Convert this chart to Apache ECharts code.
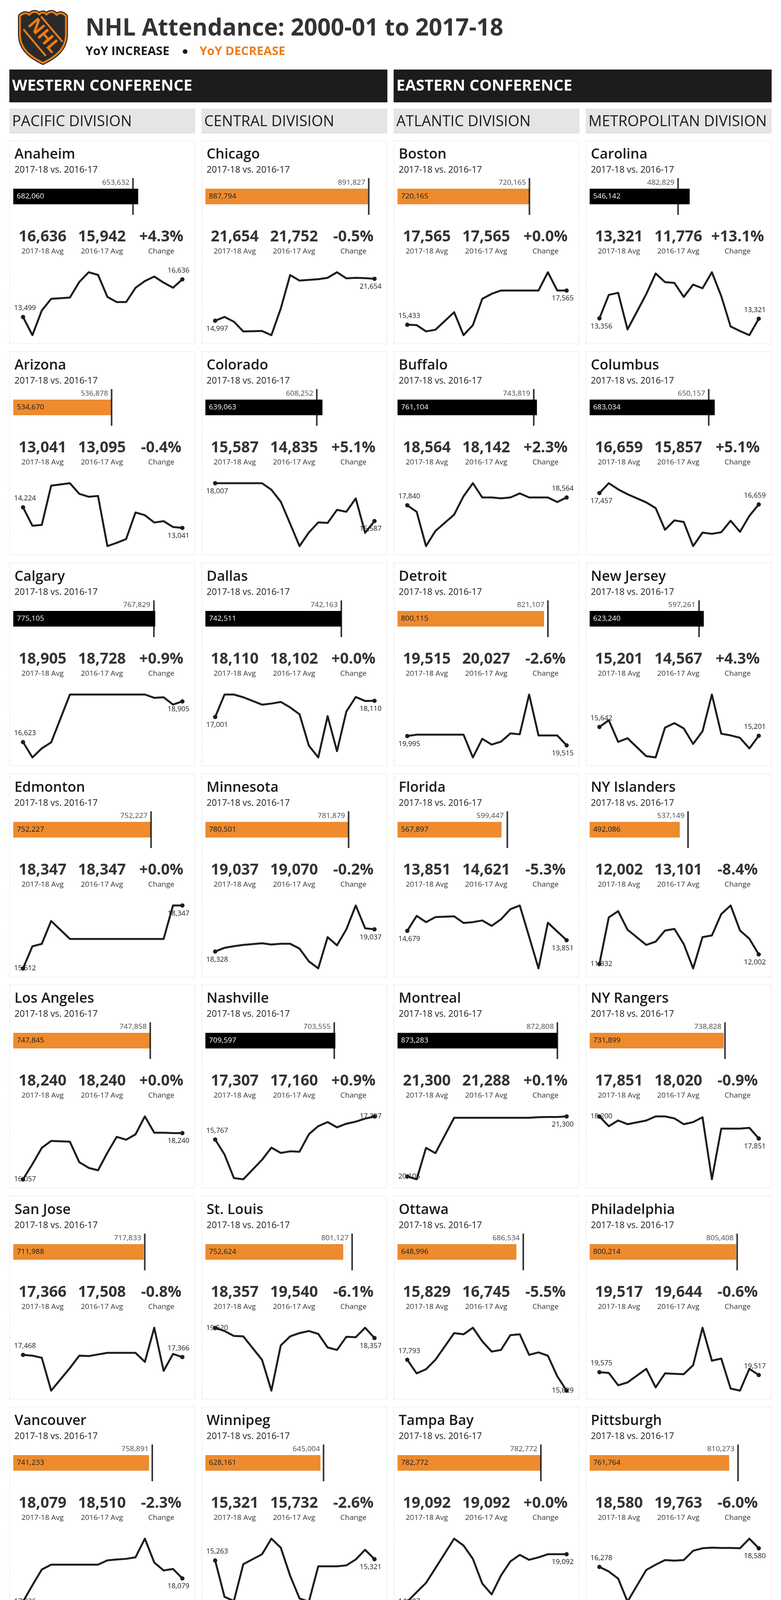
<!DOCTYPE html>
<html><head><meta charset="utf-8">
<script src="https://cdn.jsdelivr.net/npm/echarts@6/dist/echarts.min.js"></script>
<style>html,body{margin:0;padding:0;background:#fff}#c{width:2000px;height:4800px}</style>
</head><body><div id="c"></div>
<script>
// ---------------- DATA ----------------
const SEASONS = ['2000-01','2001-02','2002-03','2003-04','2004-05','2005-06','2006-07','2007-08','2008-09',
  '2009-10','2010-11','2011-12','2012-13','2013-14','2014-15','2015-16','2016-17','2017-18'];
const N = null; // 2004-05 lockout: no games

const PACIFIC_TEAMS  = ['Anaheim','Arizona','Calgary','Edmonton','Los Angeles','San Jose','Vancouver','Vegas'];
const CENTRAL_TEAMS  = ['Chicago','Colorado','Dallas','Minnesota','Nashville','St. Louis','Winnipeg'];
const ATLANTIC_TEAMS = ['Boston','Buffalo','Detroit','Florida','Montreal','Ottawa','Tampa Bay','Toronto'];
const METRO_TEAMS    = ['Carolina','Columbus','New Jersey','NY Islanders','NY Rangers','Philadelphia','Pittsburgh','Washington'];
const ALL_TEAMS = PACIFIC_TEAMS.concat(CENTRAL_TEAMS, ATLANTIC_TEAMS, METRO_TEAMS);

const TOTAL_1718 = [682060,534670,775105,752227,747845,711988,741233,739740,
  887794,639063,742511,780501,709597,752624,628161,
  720165,761104,800115,567897,873283,648996,782772,786677,
  546142,683034,623240,492086,731899,800214,761764,769756];
const TOTAL_1617 = [653632,536878,767829,752227,747858,717833,758891,0,
  891827,608252,742163,781879,703555,801127,645004,
  720165,743819,821107,599447,872808,686534,782772,809519,
  482829,650157,597261,537149,738828,805408,810273,758746];
const AVG_1718 = [16636,13041,18905,18347,18240,17366,18079,18042,
  21654,15587,18110,19037,17307,18357,15321,
  17565,18564,19515,13851,21300,15829,19092,19187,
  13321,16659,15201,12002,17851,19517,18580,18775];
const AVG_1617 = [15942,13095,18728,18347,18240,17508,18510,0,
  21752,14835,18102,19070,17160,19540,15732,
  17565,18142,20027,14621,21288,16745,19092,19744,
  11776,15857,14567,13101,18020,19644,19763,18506];
const CHANGE_PCT = [4.3,-0.4,0.9,0.0,0.0,-0.8,-2.3,0.0,
  -0.5,5.1,0.0,-0.2,0.9,-6.1,-2.6,
  0.0,2.3,-2.6,-5.3,0.1,-5.5,0.0,-2.8,
  13.1,5.1,4.3,-8.4,-0.9,-0.6,-6.0,1.5];

// average attendance per season (sparklines)
const ANAHEIM     = [13499,11985,14040,15013,N,15122,16420,17230,17015,15176,14743,14743,15933,16495,16874,16365,15942,16636];
const ARIZONA     = [14224,13165,13212,15470,N,15610,15003,14831,14878,11997,12184,12402,13928,13772,13352,13430,13095,13041];
const CALGARY     = [16623,15765,16271,16608,N,19289,19289,19289,19289,19289,19289,19289,19289,19289,19105,19135,18728,18905];
const EDMONTON    = [15512,16506,16617,17648,N,16839,16839,16839,16839,16839,16839,16839,16839,16839,16839,16839,18347,18347];
const LOS_ANGELES = [16057,16772,17545,17873,N,17834,16868,16598,16482,17313,18066,17931,18182,19032,18259,18259,18240,18240];
const SAN_JOSE    = [17468,17430,17335,15815,N,16860,17430,17411,17487,17562,17562,17562,17562,17145,18722,16727,17508,17366];
const VANCOUVER   = [17026,17767,18482,18705,N,18705,18705,18705,18705,18900,18941,18969,19038,19886,18802,18440,18510,18079];
const VEGAS       = [18042];
const CHICAGO     = [14997,15612,14843,13305,N,13371,12712,16930,22247,21368,21478,21588,21808,22687,21720,21800,21752,21654];
const COLORADO    = [18007,18007,18007,18007,N,18007,17589,16823,15413,13985,14856,15500,15465,16301,16179,17032,14835,15587];
const DALLAS      = [17001,18543,18543,18355,N,17847,17922,18035,17659,17189,15027,14219,17057,14651,17377,18373,18102,18110];
const MINNESOTA   = [18328,18446,18499,18538,N,18591,18551,18577,18577,18420,18013,17790,18788,18525,19037,19799,19070,19037];
const NASHVILLE   = [15767,14767,13200,13119,N,14416,15227,14875,14983,14956,16118,16658,16929,16578,16821,16956,17160,17307];
const ST_LOUIS    = [19520,19162,18594,18547,N,15851,12304,17506,18547,18925,19162,18831,17270,16986,18500,18452,19540,18357];
const WINNIPEG    = [15263,13660,13482,15098,N,15537,16222,15825,14592,13592,13455,15006,15006,15006,15047,15307,15732,15321];
const BOSTON      = [15433,15407,15017,15121,N,16213,14783,15407,17045,17357,17565,17565,17565,17565,17565,18700,17565,17565];
const BUFFALO     = [17840,17230,14030,15440,N,16964,18678,19897,18564,18564,18488,18564,18945,18564,18564,18564,18142,18564];
const DETROIT     = [19995,20066,20066,20066,N,20066,20066,18894,19853,19555,19704,20130,20087,22132,20027,20027,20027,19515];
const FLORIDA     = [14679,15995,15444,15885,N,15958,15371,15444,15591,15114,15701,16582,16912,14160,11371,15392,14621,13851];
const MONTREAL    = [20105,20048,20674,20568,N,21273,21273,21273,21273,21273,21273,21273,21273,21273,21284,21288,21288,21300];
const OTTAWA      = [17793,16928,17190,17793,N,19496,19418,19837,18972,18317,18422,19365,19418,18108,18265,18055,16745,15829];
const TAMPA_BAY   = [14907,15733,16559,17853,N,20468,19862,18679,16504,15540,17220,18458,19037,18597,18817,19092,19092,19092];
const TORONTO     = [19258,19281,19241,19375,N,19409,19486,19436,19315,19265,19358,19506,19429,19449,19067,19161,19744,19187];
const CAROLINA    = [13356,15560,15753,12317,N,15637,17567,16756,16679,15367,16525,16177,17683,15444,12588,12162,11776,13321];
const COLUMBUS    = [17457,18146,17717,17374,N,16802,16402,14886,15544,15429,13742,14685,14600,14714,15515,14743,15857,16659];
const NEW_JERSEY  = [15642,15978,14894,15078,N,14179,14117,15610,15835,15569,14792,15426,17266,15303,15221,15099,14567,15201];
const NY_ISLANDERS= [11332,14603,15037,13736,N,12667,12898,13678,13794,12724,11019,13216,13331,14834,15441,13678,13101,12002];
const NY_RANGERS  = [18200,18046,18137,18078,N,18137,18202,18202,18170,18078,18111,18189,17201,18007,18007,18007,18020,17851];
const PHILADELPHIA= [19575,19559,19305,19364,N,19644,19263,19551,19542,19534,19720,20491,19813,19855,19237,19195,19644,19517];
const PITTSBURGH  = [16278,15714,14835,12008,N,15905,16554,17127,17050,17127,18274,18580,18656,18618,18618,18580,19763,18580];
const WASHINGTON  = [15534,17356,15787,14724,N,13965,13965,15483,18064,18317,18393,18494,17735,18064,19076,18494,18506,18775];

const SPARK = [ANAHEIM,ARIZONA,CALGARY,EDMONTON,LOS_ANGELES,SAN_JOSE,VANCOUVER,VEGAS,
  CHICAGO,COLORADO,DALLAS,MINNESOTA,NASHVILLE,ST_LOUIS,WINNIPEG,
  BOSTON,BUFFALO,DETROIT,FLORIDA,MONTREAL,OTTAWA,TAMPA_BAY,TORONTO,
  CAROLINA,COLUMBUS,NEW_JERSEY,NY_ISLANDERS,NY_RANGERS,PHILADELPHIA,PITTSBURGH,WASHINGTON];

// ---------------- STYLE / LAYOUT ----------------
const LABEL_POS = {
  'Anaheim':['top','top'],'Arizona':['top','bottom'],'Calgary':['top','bottom'],'Edmonton':['inside','bottom'],
  'Los Angeles':['inside','bottom'],'San Jose':['top','top'],'Vancouver':['inside','bottom'],'Vegas':['top','top'],
  'Chicago':['bottom','bottom'],'Colorado':['bottom','bottom'],'Dallas':['bottom','bottom'],'Minnesota':['bottom','bottom'],
  'Nashville':['top','inside'],'St. Louis':['inside','bottom'],'Winnipeg':['top','bottom'],
  'Boston':['top','bottom'],'Buffalo':['top','top'],'Detroit':['bottom','bottom'],'Florida':['bottom','bottom'],
  'Montreal':['inside','bottom'],'Ottawa':['top','inside'],'Tampa Bay':['inside','bottom'],'Toronto':['bottom','bottom'],
  'Carolina':['bottom','top'],'Columbus':['bottom','top'],'New Jersey':['top','top'],'NY Islanders':['inside','bottom'],
  'NY Rangers':['inside','bottom'],'Philadelphia':['top','top'],'Pittsburgh':['top','bottom'],'Washington':['bottom','inside']
};
const FONT = '"Open Sans", "Noto Sans", sans-serif';
const ORANGE = '#ED8B2E';
const LEGEND_ORANGE = '#EE7D1C';
const INK = '#1a1a1a';
const GREY = '#333333';
const COL_X = [25, 517, 1009, 1501];
const CARD_W = 474, CARD_H = 520, ROW0 = 360, ROW_PITCH = 540.3;

const fmt = v => Number(v).toLocaleString('en-US');
function T(x, baseline, text, size, weight, color, align) {
  const a = align || 'left';
  return {type:'text', silent:true, z:10, style:{
    x:x, y:baseline - 0.35*size, text:text, fill:color,
    font: weight + ' ' + size + 'px ' + FONT,
    align:a, verticalAlign:'middle', textAlign:a, textVerticalAlign:'middle'}};
}

const grids=[], xAxes=[], yAxes=[], series=[], gfx=[];

// ---- header: logo (shield outline sampled from bezier segments) ----
const LX = 45, LY = 25;
function bez(p0, p1, p2, p3, n) {
  const out = [];
  for (let k = 1; k <= n; k++) {
    const t = k / n, u = 1 - t;
    out.push([u*u*u*p0[0] + 3*u*u*t*p1[0] + 3*u*t*t*p2[0] + t*t*t*p3[0],
              u*u*u*p0[1] + 3*u*u*t*p1[1] + 3*u*t*t*p2[1] + t*t*t*p3[1]]);
  }
  return out;
}
const SH = [[6,16]]
  .concat(bez([6,16],[14,8],[22,6],[30,13],6))
  .concat(bez([30,13],[38,3],[48,3],[56,12],6))
  .concat(bez([56,12],[61,5],[69,5],[74,12],6))
  .concat(bez([74,12],[82,3],[92,3],[100,13],6))
  .concat(bez([100,13],[108,6],[116,8],[124,16],6))
  .concat([[124,62]])
  .concat(bez([124,62],[124,100],[98,120],[65,136],12))
  .concat(bez([65,136],[32,120],[6,100],[6,62],12));
const SHP = SH.map(p => [p[0] + LX, p[1] + LY]);
gfx.push({type:'polygon', silent:true, shape:{points:SHP}, style:{fill:'#2a2a2a', stroke:'#222', lineWidth:10, lineJoin:'round'}});
gfx.push({type:'polygon', silent:true, shape:{points:SHP}, style:{fill:'#2a2a2a', stroke:'#F07A12', lineWidth:5, lineJoin:'round'}});
gfx.push({type:'line', silent:true, shape:{x1:LX+15, y1:LY+50, x2:LX+72, y2:LY+118}, style:{stroke:'#F07A12', lineWidth:5}});
gfx.push({type:'line', silent:true, shape:{x1:LX+60, y1:LY+17, x2:LX+115, y2:LY+82}, style:{stroke:'#F07A12', lineWidth:5}});
gfx.push({type:'text', x:LX+66, y:LY+67, rotation:-0.87, silent:true, style:{x:0, y:0, text:'NHL', fill:'#F07A12',
  font:'bold 46px ' + FONT, align:'center', verticalAlign:'middle', textAlign:'center', textVerticalAlign:'middle'}});

// ---- header: title & legend ----
gfx.push(T(219, 95, 'NHL Attendance: 2000-01 to 2017-18', 60, 'bold', GREY));
gfx.push(T(219, 143, 'YoY INCREASE', 31, 'bold', INK));
gfx.push({type:'circle', silent:true, shape:{cx:474, cy:132, r:6}, style:{fill:INK}});
gfx.push(T(511, 143, 'YoY DECREASE', 31, 'bold', LEGEND_ORANGE));

// ---- conferences ----
gfx.push({type:'rect', silent:true, shape:{x:24, y:178, width:968, height:84}, style:{fill:'#1c1c1c'}});
gfx.push({type:'rect', silent:true, shape:{x:1008, y:178, width:968, height:84}, style:{fill:'#1c1c1c'}});
gfx.push(T(31, 235, 'WESTERN CONFERENCE', 40, 'bold', '#ffffff'));
gfx.push(T(1015, 235, 'EASTERN CONFERENCE', 40, 'bold', '#ffffff'));

// ---- footer ----
gfx.push({type:'text', silent:true, style:{x:1000, y:4756,
  text:'{b|DATA SOURCE:} {r|ESPN}  {red|●}{blue|●●●}  {b|CREATED BY:} {r|ANDY KRIEBEL | @VIZWIZBI}',
  rich:{
    b:{fill:'#5a5a5a', font:'bold 23px ' + FONT, fontSize:23, fontWeight:'bold', fontFamily:FONT},
    r:{fill:'#6e6e6e', font:'23px ' + FONT, fontSize:23, fontFamily:FONT},
    red:{fill:'#D9412B', font:'15px ' + FONT, fontSize:15, fontFamily:FONT},
    blue:{fill:'#1F3D7A', font:'15px ' + FONT, fontSize:15, fontFamily:FONT}
  },
  align:'center', verticalAlign:'middle', textAlign:'center', textVerticalAlign:'middle'}});

function sparkData(vals, pos) {
  const n = vals.length;
  return vals.map((v, i) => {
    if (v == null) return null;
    if (i === 0 || i === n - 1) {
      const p = (i === 0) ? pos[0] : pos[1];
      const dx = n === 1 ? 0 : (i === 0 ? 5 : -10);
      return {value:v, symbol:'circle', symbolSize:11,
        label:{show:true, position:p, distance:(p === 'top' ? 8 : 6), offset:[dx, 0], formatter:fmt(v)}};
    }
    return {value:v, symbol:'none'};
  });
}

const DIVS = [['PACIFIC DIVISION', PACIFIC_TEAMS], ['CENTRAL DIVISION', CENTRAL_TEAMS],
              ['ATLANTIC DIVISION', ATLANTIC_TEAMS], ['METROPOLITAN DIVISION', METRO_TEAMS]];

DIVS.forEach((d, col) => {
  const cx = COL_X[col];
  gfx.push({type:'rect', silent:true, shape:{x:cx-1, y:278, width:CARD_W+2, height:64}, style:{fill:'#e5e5e5'}});
  gfx.push(T(cx+6, 325, d[0], 38, 'normal', INK));

  d[1].forEach((name, row) => {
    const i = ALL_TEAMS.indexOf(name);
    const cy = Math.round(ROW0 + row * ROW_PITCH);
    gfx.push({type:'rect', silent:true, shape:{x:cx, y:cy, width:CARD_W, height:CARD_H},
      style:{fill:'rgba(0,0,0,0)', stroke:'#d4d4d4', lineWidth:1.5, lineDash:[2,3]}});
    gfx.push(T(cx+12, cy+48, name, 36, 600, INK));
    gfx.push(T(cx+12, cy+84, '2017-18 vs. 2016-17', 23, 'normal', INK));

    const centers = [84, 236, 388];
    const chg = CHANGE_PCT[i];
    const big = [fmt(AVG_1718[i]), fmt(AVG_1617[i]), (chg >= 0 ? '+' : '') + chg.toFixed(1) + '%'];
    const sub = ['2017-18 Avg', '2016-17 Avg', 'Change'];
    for (let k = 0; k < 3; k++) {
      gfx.push(T(cx+centers[k], cy+261, big[k], 39, 'bold', GREY, 'center'));
      gfx.push(T(cx+centers[k], cy+290, sub[k], 19, 'normal', GREY, 'center'));
    }

    // bullet bar
    const noPrev = TOTAL_1617[i] === 0;
    const up = AVG_1617[i] > 0 && AVG_1718[i] > AVG_1617[i];
    const gb = grids.length;
    grids.push({left:cx + (noPrev ? 49 : 9), top:cy+96, width:(noPrev ? 430 : 469), height:94});
    xAxes.push({gridIndex:gb, type:'value', min:0, max:1000000, show:false});
    yAxes.push({gridIndex:gb, type:'category', data:['2017-18'], show:false});
    series.push({type:'bar', xAxisIndex:gb, yAxisIndex:gb, data:[TOTAL_1718[i]], barWidth:40, silent:true,
      itemStyle:{color: up ? '#000000' : ORANGE},
      label:{show:true, position:'insideLeft', distance:9, formatter:fmt(TOTAL_1718[i]),
        color: up ? '#ffffff' : INK, fontSize:19, fontFamily:FONT}});
    series.push({type:'scatter', xAxisIndex:gb, yAxisIndex:gb, data:[[TOTAL_1617[i], 0]], silent:true, z:5,
      symbol:'rect', symbolSize:[4, 94], itemStyle:{color:'#000000'},
      label:{show:true, position:'left', distance:7, offset:[0, -35], formatter:fmt(TOTAL_1617[i]),
        color:INK, fontSize:19, fontFamily:FONT}});

    // sparkline
    const vals = SPARK[i];
    const single = vals.length === 1;
    const gl = grids.length;
    grids.push({left:cx+34, top:cy+337, width:408, height:161});
    xAxes.push({gridIndex:gl, type:'category', data: single ? ['2017-18'] : SEASONS, boundaryGap:single, show:false});
    yAxes.push({gridIndex:gl, type:'value', show:false,
      min: single ? vals[0] - 1000 : 'dataMin', max: single ? vals[0] + 1000 : 'dataMax'});
    series.push({type:'line', xAxisIndex:gl, yAxisIndex:gl, data:sparkData(vals, LABEL_POS[name]),
      connectNulls:true, showAllSymbol:true, clip:false, silent:true, z:3,
      lineStyle:{color:'#1e1e1e', width:5, join:'round', cap:'round'},
      itemStyle:{color:'#1e1e1e'},
      label:{color:INK, fontSize:18, fontFamily:FONT}});
  });
});

const chart = echarts.init(document.getElementById('c'), null, {renderer:'canvas', width:2000, height:4800});
chart.setOption({
  animation:false,
  backgroundColor:'#ffffff',
  textStyle:{fontFamily:FONT},
  grid:grids, xAxis:xAxes, yAxis:yAxes, series:series,
  graphic:{elements:gfx}
});
</script>
</body></html>
